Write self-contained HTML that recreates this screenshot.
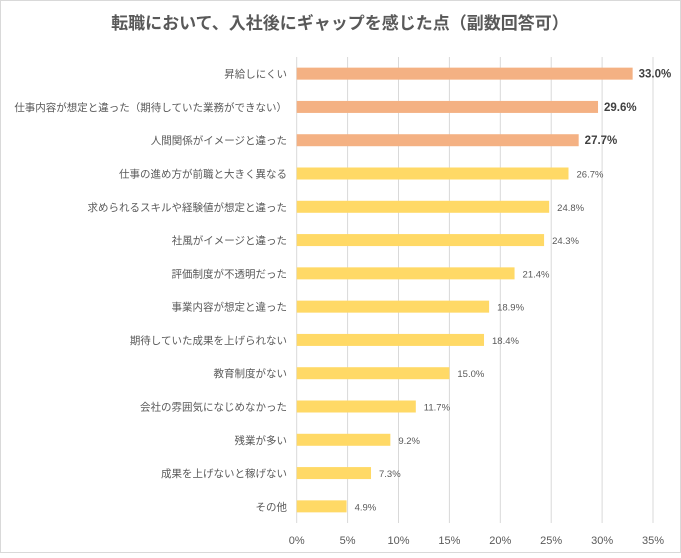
<!DOCTYPE html>
<html><head><meta charset="utf-8"><style>
body{margin:0;background:#fff;}
svg text{font-family:"Liberation Sans","Noto Sans CJK JP",sans-serif;}
</style></head><body>
<svg width="681" height="553" xmlns="http://www.w3.org/2000/svg">
<rect x="0.5" y="0.5" width="680" height="552" fill="#fff" stroke="#d9d9d9"/>
<text x="340" y="29" text-anchor="middle" font-size="17" font-weight="bold" fill="#595959">転職において、入社後にギャップを感じた点（副数回答可）</text>
<g id="grid"></g><g id="bars"></g>
</svg>
<script>
const categories=["昇給しにくい","仕事内容が想定と違った（期待していた業務ができない）","人間関係がイメージと違った","仕事の進め方が前職と大きく異なる","求められるスキルや経験値が想定と違った","社風がイメージと違った","評価制度が不透明だった","事業内容が想定と違った","期待していた成果を上げられない","教育制度がない","会社の雰囲気になじめなかった","残業が多い","成果を上げないと稼げない","その他"];
const values=[33.0,29.6,27.7,26.7,24.8,24.3,21.4,18.9,18.4,15.0,11.7,9.2,7.3,4.9];
const highlighted=[true,true,true,false,false,false,false,false,false,false,false,false,false,false];
const ticks=[0,5,10,15,20,25,30,35];
const NS="http://www.w3.org/2000/svg";
const x0=296.7,x1=653,maxV=35,yTop=57,yBottom=523;
const xs=v=>x0+(x1-x0)*v/maxV;
const band=(yBottom-yTop)/categories.length;
const ys=i=>yTop+band*(i+0.5);
function mk(t,a,p){const e=document.createElementNS(NS,t);for(const k in a)e.setAttribute(k,a[k]);p.appendChild(e);return e;}
const g=document.getElementById('grid'),b=document.getElementById('bars');
ticks.forEach(t=>{
const l=mk('line',{x1:xs(t),x2:xs(t),y1:yTop,y2:yBottom,stroke:'#d9d9d9','stroke-width':1},g);


const tx=mk('text',{x:xs(t),y:544,'text-anchor':'middle','font-size':11,fill:'#595959'},g);
tx.textContent=t+'%';


});
categories.forEach((c,i)=>{
const y=ys(i);
const r=mk('rect',{x:x0,y:y-6,width:xs(values[i])-x0,height:12,fill:highlighted[i]?'#f4b183':'#ffd966'},b);


const lab=mk('text',{x:287,y:y+4,'text-anchor':'end','font-size':10.5,fill:'#595959'},b);
lab.textContent=c;


const v=mk('text',{x:xs(values[i])+(highlighted[i]?6:8),y:y+4,'font-size':highlighted[i]?11.5:9.5,'font-weight':highlighted[i]?'bold':'normal',fill:highlighted[i]?'#404040':'#595959'},b);
v.textContent=values[i].toFixed(1)+'%';


});
</script>
</body></html>
